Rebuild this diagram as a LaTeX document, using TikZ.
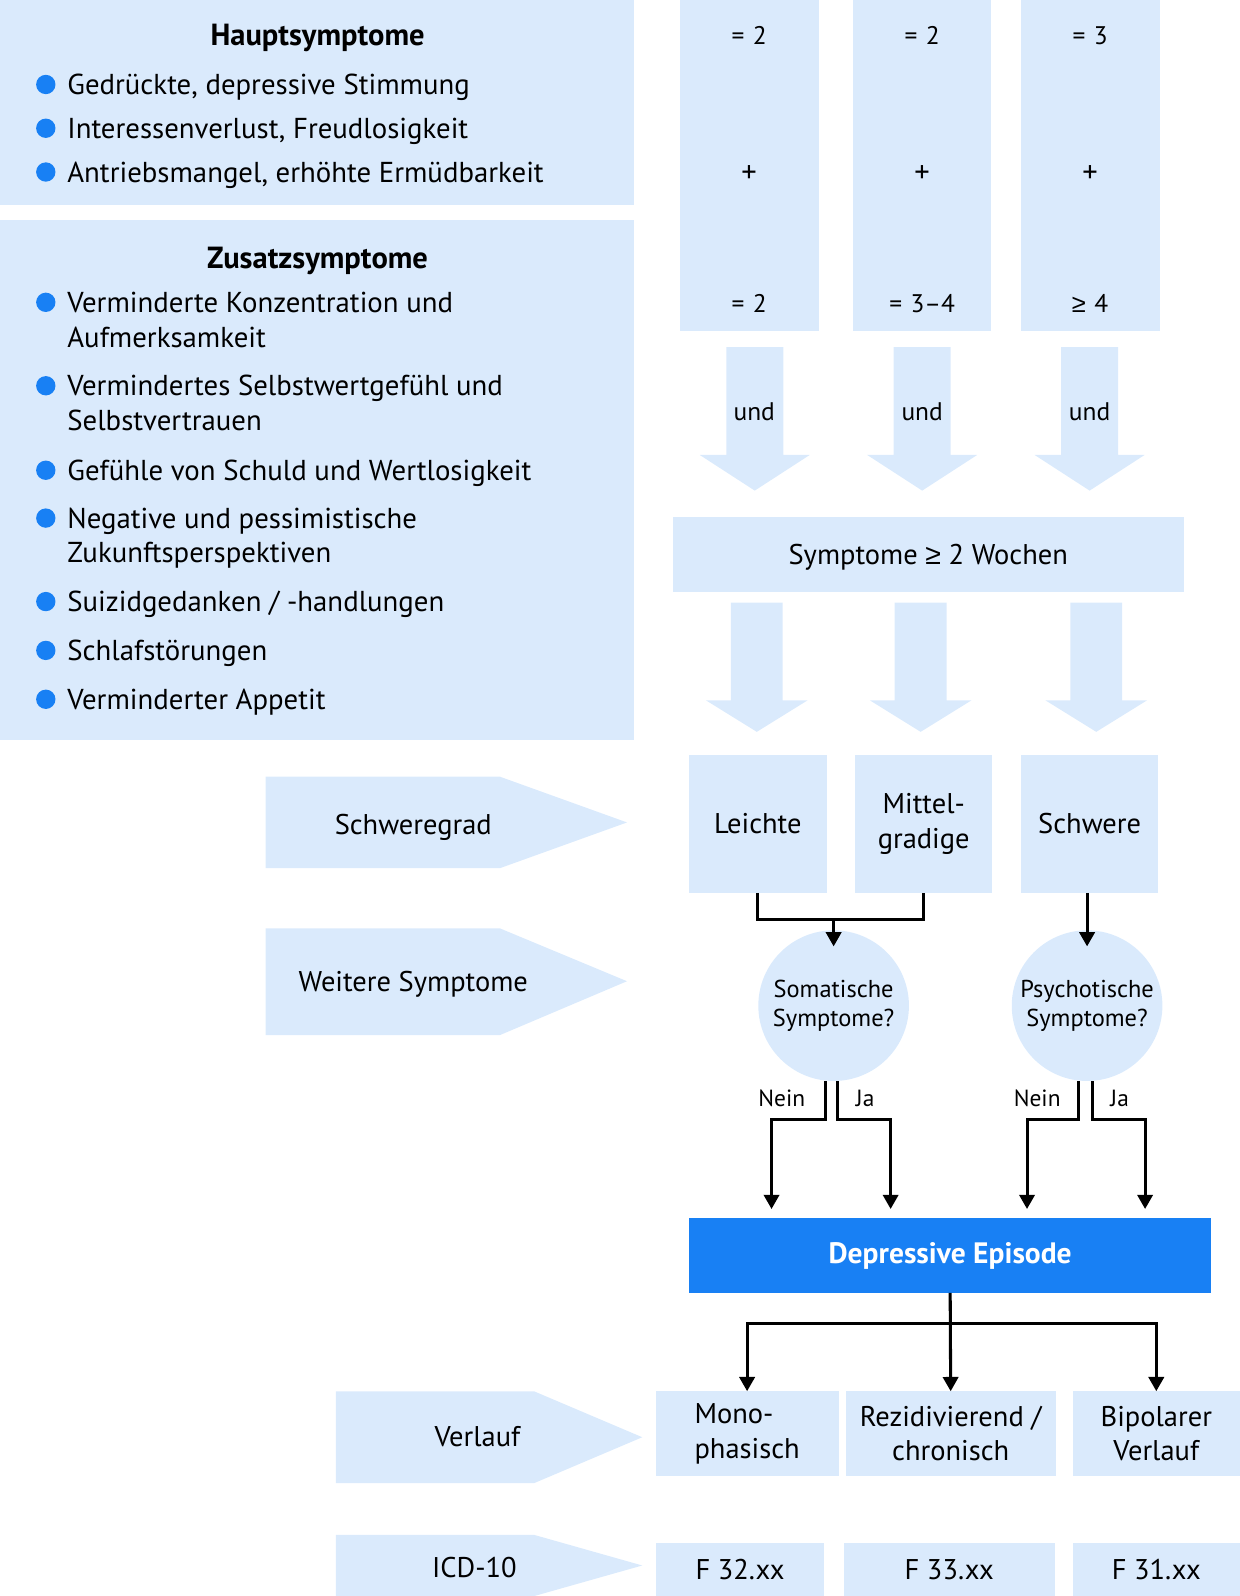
\documentclass[tikz,border=0pt]{standalone}
\usepackage{fontspec}
\setmainfont{PT Sans}
\newfontfamily\zeichen{Liberation Sans}
\usetikzlibrary{arrows.meta}
\definecolor{hellblau}{RGB}{218,234,252}
\definecolor{blau}{RGB}{24,128,244}
\tikzset{every picture/.append style={x=1pt, y=-1pt}}
\tikzset{
    feld/.style={fill=hellblau, inner sep=0pt},
    schrift/.style={align=center, font=\fontsize{28}{34}\selectfont},
    punkt/.style={circle, fill=blau, minimum size=19, inner sep=0pt},
    eintrag/.style={anchor=base west, align=left, inner sep=0pt,
    	font=\fontsize{28.3}{34}\selectfont},
    titel/.style={anchor=base, inner sep=0pt, font=\bfseries\fontsize{30}{34}\selectfont},
    klein/.style={anchor=base, inner sep=0pt, font=\fontsize{25}{28}\selectfont},
    linie/.style={line width=3pt},
    pfeil/.style={line width=3pt, -{Triangle[length=14pt, width=15pt]}}
}

\begin{document}
\begin{tikzpicture}
	\useasboundingbox (0,0) rectangle (1218,1568);
	\node[feld, minimum width=623, minimum height=201] (haupt) at (311.5,100.5) {};
	\node[feld, minimum width=623, minimum height=511] (zusatz) at (311.5,471.5) {};
	\node[titel] (ht) at (312,45) {Hauptsymptome};
	\node[punkt] (p1) at (45,83) {};
	\node[punkt] (p2) at (45,126) {};
	\node[punkt] (p3) at (45,169) {};
	\node[eintrag] (h1) at (66,93) {Gedrückte, depressive Stimmung};
	\node[eintrag] (h2) at (66,136) {Interessenverlust, Freudlosigkeit};
	\node[eintrag] (h3) at (66,179) {Antriebsmangel, erhöhte Ermüdbarkeit};
	\node[titel] (zt) at (312,264) {Zusatzsymptome};
	\node[punkt] (p4) at (45,297) {};
	\node[punkt] (p5) at (45,379) {};
	\node[punkt] (p6) at (45,462) {};
	\node[punkt] (p7) at (45,509) {};
	\node[punkt] (p8) at (45,591) {};
	\node[punkt] (p9) at (45,639) {};
	\node[punkt] (p10) at (45,687) {};
	\node[eintrag] (z1) at (66,341) {Verminderte Konzentration und\\Aufmerksamkeit};
	\node[eintrag] (z2) at (66,423) {Vermindertes Selbstwertgefühl und\\Selbstvertrauen};
	\node[eintrag] (z3) at (66,472) {Gefühle von Schuld und Wertlosigkeit};
	\node[eintrag] (z4) at (66,553) {Negative und pessimistische\\Zukunftsperspektiven};
	\node[eintrag] (z5) at (66,601) {Suizidgedanken / -handlungen};
	\node[eintrag] (z6) at (66,649) {Schlafstörungen};
	\node[eintrag] (z7) at (66,697) {Verminderter Appetit};

	\node[feld, minimum width=137, minimum height=325] (s1) at (736.5,162.5) {};
	\node[feld, minimum width=136, minimum height=325] (s2) at (906,162.5) {};
	\node[feld, minimum width=137, minimum height=325] (s3) at (1071.5,162.5) {};
	\node[klein] (a1) at (736,44) {=\,\,2};
	\node[klein, font=\fontsize{30}{30}\selectfont] (a2) at (736,179) {+};
	\node[klein] (a3) at (736,307) {=\,\,2};
	\node[klein] (b1) at (906,44) {=\,\,2};
	\node[klein, font=\fontsize{30}{30}\selectfont] (b2) at (906,179) {+};
	\node[klein] (b3) at (906,307) {=\,\,3–4};
	\node[klein] (c1) at (1071,44) {=\,\,3};
	\node[klein, font=\fontsize{30}{30}\selectfont] (c2) at (1071,179) {+};
	\node[klein] (c3) at (1071,307) {{\zeichen ≥}\,\,4};

	\fill[hellblau, shift={(741.5,0)}] (-28,341) -- (28,341) -- (28,447) -- (54,447)
		-- (0,482) -- (-54,447) -- (-28,447) -- cycle;
	\fill[hellblau, shift={(906,0)}] (-28,341) -- (28,341) -- (28,447) -- (54,447)
		-- (0,482) -- (-54,447) -- (-28,447) -- cycle;
	\fill[hellblau, shift={(1070.5,0)}] (-28,341) -- (28,341) -- (28,447) -- (54,447)
		-- (0,482) -- (-54,447) -- (-28,447) -- cycle;
	\node[klein] (und1) at (741,413) {und};
	\node[klein] (und2) at (906,413) {und};
	\node[klein] (und3) at (1070.5,413) {und};

	\node[feld, schrift, minimum width=502, minimum height=74, text height=20pt, text depth=0pt]
		(dauer) at (912,545) {Symptome {\zeichen ≥} 2 Wochen};

	\fill[hellblau, shift={(743.5,0)}] (-25.5,592) -- (25.5,592) -- (25.5,688) -- (50,688)
		-- (0,719) -- (-50,688) -- (-25.5,688) -- cycle;
	\fill[hellblau, shift={(904.5,0)}] (-25.5,592) -- (25.5,592) -- (25.5,688) -- (50,688)
		-- (0,719) -- (-50,688) -- (-25.5,688) -- cycle;
	\fill[hellblau, shift={(1077,0)}] (-25.5,592) -- (25.5,592) -- (25.5,688) -- (50,688)
		-- (0,719) -- (-50,688) -- (-25.5,688) -- cycle;

	\fill[hellblau] (261,763) -- (491,763) -- (616,808) -- (491,853) -- (261,853) -- cycle;
	\fill[hellblau] (261,912) -- (491,912) -- (616,964) -- (491,1017) -- (261,1017) -- cycle;
	\fill[hellblau] (330,1367) -- (525,1367) -- (631,1412) -- (525,1457) -- (330,1457) -- cycle;
	\fill[hellblau] (330,1508) -- (525,1508) -- (631,1538) -- (525,1568) -- (330,1568) -- cycle;
	\node[schrift, anchor=base, inner sep=0pt] (grad) at (406,820) {Schweregrad};
	\node[schrift, anchor=base, inner sep=0pt] (weitere) at (406,974) {Weitere Symptome};
	\node[schrift, anchor=base, inner sep=0pt] (verlauf) at (469,1421) {Verlauf};
	\node[schrift, anchor=base, inner sep=0pt] (icd) at (466,1550) {ICD-10};

	\node[feld, schrift, minimum width=135, minimum height=135] (leicht) at (744.5,809.5) {Leichte};
	\node[feld, schrift, minimum width=135, minimum height=135] (mgr) at (907.5,809.5) {Mittel-\\gradige};
	\node[feld, schrift, minimum width=135, minimum height=135] (schwer) at (1070.5,809.5) {Schwere};
	\node[feld, circle, align=center, minimum size=148, font=\fontsize{24}{29}\selectfont]
		(somat) at (819,988) {Somatische\\Symptome?};
	\node[feld, circle, align=center, minimum size=148, font=\fontsize{24}{29}\selectfont]
		(psych) at (1068,988) {Psychotische\\Symptome?};
	\node[fill=blau, text=white, inner sep=0pt, minimum width=513, minimum height=73,
		font=\bfseries\fontsize{29}{30}\selectfont] (dep) at (933.5,1233.5) {Depressive Episode};

	\node[feld, schrift, align=left, minimum width=180, minimum height=83] (mono) at (734,1408.5) {Mono-\\phasisch};
	\node[feld, schrift, minimum width=206, minimum height=83] (rezid) at (934,1408.5) {Rezidivierend /\\chronisch};
	\node[feld, schrift, minimum width=164, minimum height=83] (bipol) at (1136,1408.5) {Bipolarer\\Verlauf};
	\node[feld, schrift, minimum width=166, minimum height=52] (f32) at (727,1542) {F 32.xx};
	\node[feld, schrift, minimum width=207, minimum height=52] (f33) at (932.5,1542) {F 33.xx};
	\node[feld, schrift, minimum width=164, minimum height=52] (f31) at (1136,1542) {F 31.xx};

	\coordinate (gabel) at (819,903);
	\draw[linie] (leicht.south) -- ++(0,26) -| (mgr.south);
	\draw[pfeil, shorten >=-16pt] (gabel) -- (somat);
	\draw[pfeil, shorten >=-16pt] (psych.north |- schwer.south) -- (psych);

	\coordinate (n1) at (758,1100);
	\coordinate (j1) at (875,1100);
	\coordinate (n2) at (1009,1100);
	\coordinate (j2) at (1125,1100);
	\draw[pfeil, shorten >=9pt] ([xshift=-8pt]somat.south) |- (n1) -- (n1 |- dep.north);
	\draw[pfeil, shorten >=9pt] ([xshift=4pt]somat.south) |- (j1) -- (j1 |- dep.north);
	\draw[pfeil, shorten >=9pt] ([xshift=-8pt]psych.south) |- (n2) -- (n2 |- dep.north);
	\draw[pfeil, shorten >=9pt] ([xshift=5pt]psych.south) |- (j2) -- (j2 |- dep.north);
	\node[anchor=base, inner sep=0pt, font=\fontsize{23}{26}\selectfont] (nein1) at (768,1087) {Nein};
	\node[anchor=base, inner sep=0pt, font=\fontsize{23}{26}\selectfont] (ja1) at (850,1087) {Ja};
	\node[anchor=base, inner sep=0pt, font=\fontsize{23}{26}\selectfont] (nein2) at (1019,1087) {Nein};
	\node[anchor=base, inner sep=0pt, font=\fontsize{23}{26}\selectfont] (ja2) at (1100,1087) {Ja};

	\coordinate (verz) at (934,1300);
	\draw[pfeil] (dep.south) -- (rezid.north);
	\draw[pfeil] (verz) -| (mono.north);
	\draw[pfeil] (verz) -| (bipol.north);
\end{tikzpicture}
\end{document}
